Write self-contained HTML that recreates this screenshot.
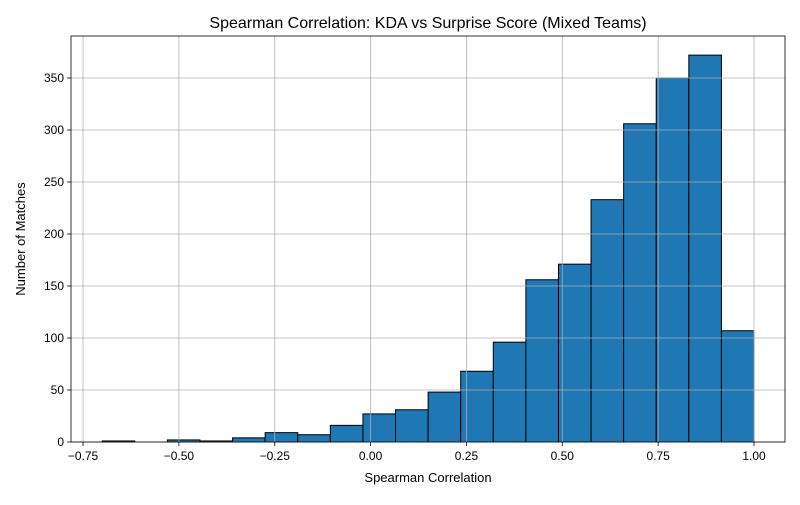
<!DOCTYPE html>
<html><head><meta charset="utf-8"><style>
body{margin:0;background:#fff;font-family:"Liberation Sans",sans-serif}
svg text{font-family:"Liberation Sans",sans-serif;fill:#000}
</style></head><body>
<svg id="c" width="800" height="500"></svg>
<script>
const binStart=-0.70, binWidth=0.085;
const counts=[1,0,2,1,4,9,7,16,27,31,48,68,96,156,171,233,306,350,372,107];
const xTicks=[-0.75,-0.5,-0.25,0,0.25,0.5,0.75,1.0];
const xTickLabels=["−0.75","−0.50","−0.25","0.00","0.25","0.50","0.75","1.00"];
const yTicks=[0,50,100,150,200,250,300,350];
const L=71,R=785,T=36,B=442;
const xs=v=>370.6+v*383.4;
const ys=v=>B-v*1.04;
const NS="http://www.w3.org/2000/svg";
const svg=document.getElementById('c');
function mk(t,a,p){const e=document.createElementNS(NS,t);for(const k in a)e.setAttribute(k,a[k]);(p||svg).appendChild(e);return e;}
mk('rect',{x:0,y:0,width:800,height:500,fill:'#fff'});
const bars=mk('g',{});


counts.forEach((c,i)=>{
 const x0=xs(binStart+i*binWidth),x1=xs(binStart+(i+1)*binWidth);
 const r=mk('rect',{x:x0,y:ys(c),width:x1-x0,height:B-ys(c),fill:'#1f77b4',stroke:'#000','stroke-width':1},bars);
 
 
});
const grid=mk('g',{});


xTicks.forEach(v=>mk('line',{x1:xs(v),x2:xs(v),y1:T,y2:B,stroke:'#b0b0b0','stroke-width':0.8},grid));
yTicks.forEach(v=>mk('line',{x1:L,x2:R,y1:ys(v),y2:ys(v),stroke:'#b0b0b0','stroke-width':0.8},grid));
const frame=mk('rect',{x:L,y:T,width:R-L,height:B-T,fill:'none',stroke:'#000','stroke-width':0.8});


xTicks.forEach((v,i)=>{
 mk('line',{x1:xs(v),x2:xs(v),y1:B,y2:B+4,stroke:'#000','stroke-width':0.8});
 const t=mk('text',{x:xs(v),y:B+18,'text-anchor':'middle','font-size':12});
 t.textContent=xTickLabels[i];
 
 
});
yTicks.forEach(v=>{
 mk('line',{x1:L-4,x2:L,y1:ys(v),y2:ys(v),stroke:'#000','stroke-width':0.8});
 const t=mk('text',{x:L-7,y:ys(v)+4,'text-anchor':'end','font-size':12});
 t.textContent=v;
 
 
});
let t=mk('text',{x:428,y:28,'text-anchor':'middle','font-size':16});
t.textContent='Spearman Correlation: KDA vs Surprise Score (Mixed Teams)';


t=mk('text',{x:428,y:482,'text-anchor':'middle','font-size':13});
t.textContent='Spearman Correlation';


t=mk('text',{x:25,y:239,'text-anchor':'middle','font-size':13,transform:'rotate(-90 25 239)'});
t.textContent='Number of Matches';


</script>
</body></html>
